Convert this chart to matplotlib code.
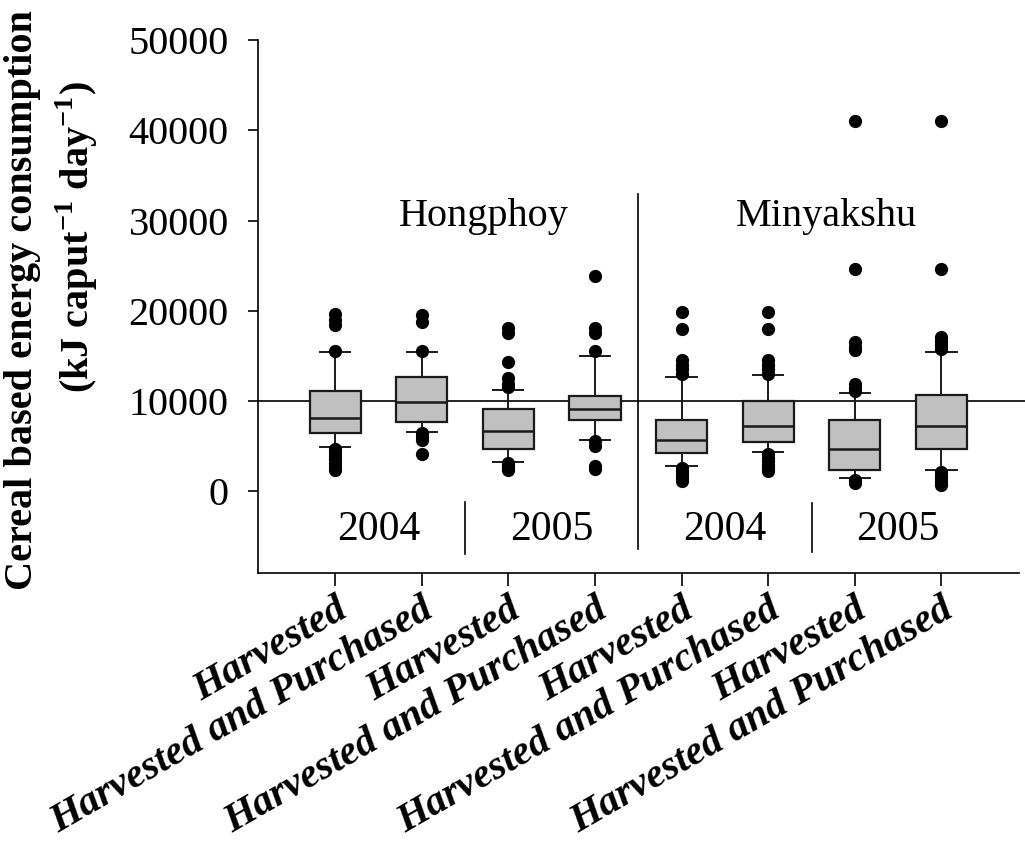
import matplotlib
matplotlib.use("Agg")
import matplotlib.pyplot as plt
import matplotlib.transforms as mtransforms

# ---------------- data ----------------
categories = ["Harvested", "Harvested and Purchased",
              "Harvested", "Harvested and Purchased",
              "Harvested", "Harvested and Purchased",
              "Harvested", "Harvested and Purchased"]
medians = [8100, 9900, 6700, 9100, 5600, 7200, 4600, 7200]
q1s = [6400, 7700, 4700, 7900, 4200, 5400, 2300, 4600]
q3s = [11100, 12700, 9050, 10500, 7900, 10000, 7900, 10600]
whislos = [4900, 6500, 3200, 5600, 2800, 4300, 1400, 2300]
whishis = [15400, 15400, 11200, 15000, 12700, 12900, 10900, 15400]
fliers = [
    [19600, 19000, 18400, 15500, 4700, 4300, 3900, 3500, 3100, 2700, 2300],
    [19500, 18700, 15500, 6400, 6000, 5600, 4100],
    [18100, 17500, 14300, 12500, 11900, 11500, 3100, 2800, 2500, 2300],
    [23900, 18100, 17500, 15500, 5500, 5000, 2800, 2400],
    [19900, 18000, 14500, 14000, 13500, 13000, 2600, 2200, 1800, 1400, 1100],
    [19900, 18000, 14500, 14000, 13500, 13000, 4100, 3700, 3300, 2900, 2500, 2200],
    [41000, 24600, 16500, 16000, 15600, 11900, 11400, 11100, 1200, 900],
    [41000, 24600, 17100, 16600, 16200, 15800, 2100, 1700, 1300, 1000, 700],
]
yticks = [0, 10000, 20000, 30000, 40000, 50000]
reference_line = 10000
sites = ["Hongphoy", "Minyakshu"]
years = ["2004", "2005", "2004", "2005"]

# ---------------- figure ----------------
plt.rcParams['font.family'] = ['Liberation Serif', 'DejaVu Serif']
plt.rcParams['mathtext.fontset'] = 'custom'
plt.rcParams['mathtext.rm'] = 'Liberation Serif'
plt.rcParams['mathtext.bf'] = 'Liberation Serif:bold'

fig = plt.figure(figsize=(10.25, 8.59), dpi=100)
ax = fig.add_axes([0.2517, 0.333, 0.742, 0.620])

positions = list(range(1, len(categories) + 1))
stats = []
for i in range(len(categories)):
    stats.append(dict(med=medians[i], q1=q1s[i], q3=q3s[i],
                      whislo=whislos[i], whishi=whishis[i],
                      fliers=fliers[i]))

ax.bxp(stats, positions=positions, widths=0.59, capwidths=0.35,
       patch_artist=True, showfliers=True,
       boxprops=dict(facecolor='#c0c0c0', edgecolor='#1a1a1a', linewidth=1.6),
       medianprops=dict(color='#1a1a1a', linewidth=1.8),
       whiskerprops=dict(color='#1a1a1a', linewidth=1.4),
       capprops=dict(color='#1a1a1a', linewidth=1.4),
       flierprops=dict(marker='o', markerfacecolor='black',
                       markeredgecolor='black', markersize=8.5, linestyle='none'))

ax.set_xlim(0.11, 8.89)
ax.set_ylim(-9100, 50000)

# reference line at 10000
ax.plot([0, 1.015], [reference_line, reference_line],
        transform=mtransforms.blended_transform_factory(ax.transAxes, ax.transData),
        color='black', linewidth=1.2, clip_on=False, zorder=0.5)

# separators
ax.plot([4.5, 4.5], [32900, -6400], color='black', linewidth=1.2)
ax.plot([2.5, 2.5], [-1200, -7000], color='black', linewidth=1.2)
ax.plot([6.5, 6.5], [-1300, -6800], color='black', linewidth=1.2)

# site and year labels
ax.text(2.72, 29400, sites[0], ha='center', va='baseline', fontsize=29)
ax.text(6.67, 29400, sites[1], ha='center', va='baseline', fontsize=29)
for k, yr in enumerate(years):
    ax.text(1.5 + 2 * k, -5450, yr, ha='center', va='baseline', fontsize=30)

# axes styling
for s in ['top', 'right']:
    ax.spines[s].set_visible(False)
ax.spines['left'].set_linewidth(1.2)
ax.spines['bottom'].set_linewidth(1.2)

ax.set_yticks(yticks)
ax.set_yticklabels([str(v) for v in yticks], fontsize=29)
ax.tick_params(axis='y', direction='out', length=7, width=1.2, pad=14)

ax.set_xticks(positions)
ax.set_xticklabels(categories, rotation=30, ha='right', va='top',
                   rotation_mode='anchor', fontsize=29.5,
                   fontweight='bold', fontstyle='italic')
ax.tick_params(axis='x', direction='out', length=9, width=1.2, pad=4)

# y-axis label (two lines)
fig.text(0.022, 1 - 300 / 859, "Cereal based energy consumption",
         rotation=90, ha='center', va='center', fontsize=29, fontweight='bold')
fig.text(0.075, 1 - 237 / 859, r"(kJ caput$^{\mathbf{-1}}$ day$^{\mathbf{-1}}$)",
         rotation=90, ha='center', va='center', fontsize=29, fontweight='bold')

fig.savefig("out.png", dpi=100)
